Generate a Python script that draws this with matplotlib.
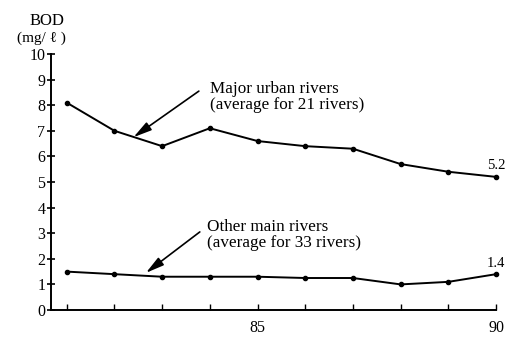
import matplotlib
matplotlib.use("Agg")
import matplotlib.pyplot as plt

plt.rcParams['font.family'] = ['Liberation Serif', 'DejaVu Serif']

years = [81, 82, 83, 84, 85, 86, 87, 88, 89, 90]
urban_bod = [8.1, 7.0, 6.4, 7.1, 6.6, 6.4, 6.3, 5.7, 5.4, 5.2]
other_bod = [1.5, 1.4, 1.3, 1.3, 1.3, 1.25, 1.25, 1.0, 1.1, 1.4]
yticks = list(range(0, 11))
xtick_labels = {85: '85', 90: '90'}

fig = plt.figure(figsize=(5.2, 3.47), dpi=100)
ax = fig.add_axes([0.098, 0.1066, 0.856, 0.7378])

for vals in (urban_bod, other_bod):
    ax.plot(years, vals, color='black', lw=1.4, marker='o', ms=3.0,
            clip_on=False, zorder=3)

ax.set_xlim(80.67, 90)
ax.set_ylim(0, 10)

for s in ('top', 'right'):
    ax.spines[s].set_visible(False)
for s in ('left', 'bottom'):
    ax.spines[s].set_linewidth(1.4)

ax.set_yticks(yticks)
ax.set_yticklabels([str(v) for v in yticks], fontsize=11.5)
ax.tick_params(axis='y', direction='inout', length=6, width=1.2, pad=1)
ax.set_xticks(years)
ax.set_xticklabels([xtick_labels.get(y, '') for y in years], fontsize=11.5)
ax.tick_params(axis='x', direction='in', length=4, width=1.0, pad=7)

# axis title above the y axis
ax.text(-0.008, 1.13, 'BOD', transform=ax.transAxes, ha='center',
        va='center', fontsize=12)
ax.text(-0.022, 1.06, '(mg/ ℓ )', transform=ax.transAxes, ha='center',
        va='center', fontsize=11)

# end-of-series values
ax.annotate(f'{urban_bod[-1]}', (years[-1], urban_bod[-1]),
            xytext=(0, 8.5), textcoords='offset points', ha='center',
            va='center', fontsize=10.5)
ax.annotate(f'{other_bod[-1]}', (years[-1], other_bod[-1]),
            xytext=(0, 7.5), textcoords='offset points', ha='center',
            va='center', fontsize=10.5)

arrow = dict(arrowstyle='-|>,head_length=1.1,head_width=0.28',
             color='black', lw=1.2, shrinkA=0, shrinkB=0)
ax.annotate('', xy=(82.4, 6.75), xytext=(83.77, 8.55), arrowprops=arrow)
ax.annotate('', xy=(82.66, 1.45), xytext=(83.79, 3.05), arrowprops=arrow)

ax.text(84.0, 8.32, 'Major urban rivers\n(average for 21 rivers)',
        fontsize=12.3, ha='left', va='center', linespacing=1.0)
ax.text(83.94, 2.93, 'Other main rivers\n(average for 33 rivers)',
        fontsize=12.3, ha='left', va='center', linespacing=1.0)

fig.savefig('out.png', dpi=100)
